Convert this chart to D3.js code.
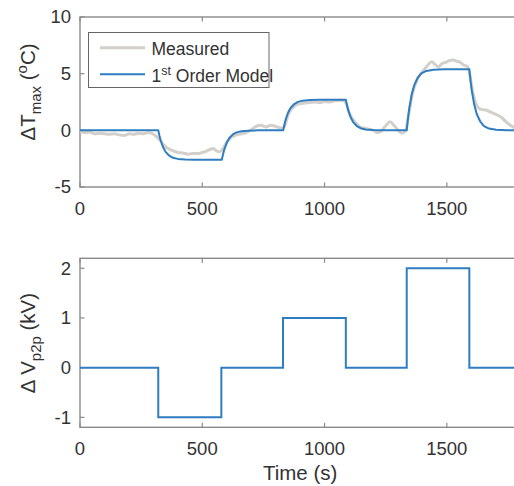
<!DOCTYPE html>
<html><head><meta charset="utf-8">
<script src="https://cdn.jsdelivr.net/npm/d3@7"></script>
<style>
html,body{margin:0;padding:0;background:#fff;}
svg{display:block;font-family:"Liberation Sans",Arial,Helvetica,sans-serif;}
</style></head>
<body>
<svg id="chart" width="514" height="486"></svg>
<script>
// ---------- data ----------
const xTicks = [0, 500, 1000, 1500, 2000];
const topYTicks = [-5, 0, 5, 10];
const botYTicks = [-1, 0, 1, 2];

// Measured temperature rise (°C) vs time (s)
const measT = [0,20,40,60,80,100,120,140,160,184,200,220,240,260,280,300,315,330,345,360,380,400,420,442,460,483,500,510,525,544,557,571,585,600,620,640,660,680,700,720,740,760,780,800,820,835,850,865,880,900,920,940,960,980,1000,1020,1040,1060,1080,1090,1100,1115,1130,1145,1160,1180,1200,1215,1230,1250,1268,1285,1300,1316,1330,1345,1360,1375,1390,1405,1420,1438,1452,1466,1480,1495,1510,1525,1540,1555,1570,1585,1595,1605,1615,1625,1640,1660,1680,1700,1720,1740,1760,1780,1800];
const measV = [-0.1,-0.2,-0.15,-0.3,-0.25,-0.3,-0.35,-0.3,-0.4,-0.45,-0.3,-0.35,-0.25,-0.3,-0.2,-0.35,-0.6,-0.95,-1.35,-1.6,-1.8,-1.95,-2.0,-2.1,-2.05,-2.05,-1.95,-1.9,-1.75,-1.6,-1.8,-1.9,-1.6,-1.05,-0.6,-0.4,-0.3,-0.2,0.05,0.35,0.45,0.3,0.45,0.35,0.2,0.3,1.3,1.9,2.2,2.35,2.4,2.45,2.5,2.45,2.55,2.5,2.6,2.65,2.6,2.3,1.6,1.0,0.6,0.3,0.2,0.1,0.0,-0.2,-0.1,0.4,0.75,0.4,0.05,-0.25,-0.1,1.5,3.3,4.3,4.9,5.3,5.7,6.05,5.8,5.6,5.9,6.0,6.15,6.2,6.1,6.0,5.75,5.6,4.8,3.5,2.6,2.1,1.85,1.8,1.6,1.4,1.2,0.8,0.45,0.2,0.1];

// First-order model (°C) vs time (s)
const modelT = [0,320,325,330,340,350,365,380,400,430,470,580,585,590,600,610,625,640,660,690,730,831,836,841,851,861,876,891,911,941,981,1087,1092,1097,1107,1117,1132,1147,1167,1197,1237,1336,1341,1346,1356,1366,1381,1396,1416,1446,1486,1592,1597,1602,1612,1622,1637,1652,1672,1702,1742,1800];
const modelV = [0,0,-0.5,-0.9,-1.5,-1.9,-2.24,-2.42,-2.52,-2.57,-2.6,-2.6,-2.1,-1.7,-1.1,-0.7,-0.36,-0.18,-0.08,-0.03,0,0,0.51,0.95,1.57,1.97,2.32,2.51,2.62,2.67,2.7,2.7,2.19,1.76,1.13,0.73,0.38,0.19,0.08,0.03,0,0,1.03,1.89,3.13,3.94,4.64,5.02,5.24,5.35,5.4,5.4,4.37,3.51,2.27,1.46,0.76,0.38,0.16,0.05,0,0];

// Voltage step input (kV) vs time (s)
const voltT = [0,320,578,830,1087,1336,1592,1800];
const voltV = [0,-1,0,1,0,2,0,0];

// ---------- drawing ----------
const svg = d3.select("#chart");
const L = 80, R = 520.2;
const top1 = 17, bot1 = 187;
const top2 = 258.3, bot2 = 427.3;
const axisCol = "#8a8a8a", textCol = "#333";
const blue = "#2e7dc0", grey = "#d3cfca";
const tickFs = 18.5, labelFs = 20.5, legFs = 17.5;

const x = d3.scaleLinear().domain([0, 1800]).range([L, R]);
const y1 = d3.scaleLinear().domain([-5, 10]).range([bot1, top1]);
const y2 = d3.scaleLinear().domain([-1.2, 2.2]).range([bot2, top2]);

function panel(y, top, bot, yTicks, id) {
  const g = svg.append("g");
  // clip
  svg.append("clipPath").attr("id", id).append("rect")
    .attr("x", L).attr("y", top).attr("width", R - L).attr("height", bot - top);
  // ticks (inside), x on bottom and top
  const tl = 4.5;
  xTicks.forEach(t => {
    const px = x(t);
    g.append("line").attr("x1", px).attr("x2", px).attr("y1", bot).attr("y2", bot - tl)
      .attr("stroke", axisCol).attr("stroke-width", 1.2);
    g.append("line").attr("x1", px).attr("x2", px).attr("y1", top).attr("y2", top + tl)
      .attr("stroke", axisCol).attr("stroke-width", 1.2);
    if (t <= 1800) g.append("text").attr("x", px).attr("y", bot + 27.5)
      .attr("text-anchor", "middle").attr("font-size", tickFs).attr("fill", textCol).text(t);
  });
  yTicks.forEach(v => {
    const py = y(v);
    g.append("line").attr("x1", L).attr("x2", L + tl).attr("y1", py).attr("y2", py)
      .attr("stroke", axisCol).attr("stroke-width", 1.2);
    g.append("line").attr("x1", R).attr("x2", R - tl).attr("y1", py).attr("y2", py)
      .attr("stroke", axisCol).attr("stroke-width", 1.2);
    g.append("text").attr("x", 71).attr("y", py).attr("dy", "0.35em")
      .attr("text-anchor", "end").attr("font-size", tickFs).attr("fill", textCol).text(v);
  });
  g.append("rect").attr("x", L).attr("y", top).attr("width", R - L).attr("height", bot - top)
    .attr("fill", "none").attr("stroke", axisCol).attr("stroke-width", 1.4);
  return g;
}

panel(y1, top1, bot1, topYTicks, "clip1");
panel(y2, top2, bot2, botYTicks, "clip2");

// top panel lines
const measData = measT.map((t, i) => [t, measV[i]]);
const modelData = modelT.map((t, i) => [t, modelV[i]]);
svg.append("path").attr("clip-path", "url(#clip1)")
  .attr("d", d3.line().x(d => x(d[0])).y(d => y1(d[1])).curve(d3.curveMonotoneX)(measData))
  .attr("fill", "none").attr("stroke", grey).attr("stroke-width", 3).attr("stroke-linejoin", "round");
svg.append("path").attr("clip-path", "url(#clip1)")
  .attr("d", d3.line().x(d => x(d[0])).y(d => y1(d[1])).curve(d3.curveLinear)(modelData))
  .attr("fill", "none").attr("stroke", blue).attr("stroke-width", 2).attr("stroke-linejoin", "round");

// bottom panel step
const voltData = voltT.map((t, i) => [t, voltV[i]]);
svg.append("path").attr("clip-path", "url(#clip2)")
  .attr("d", d3.line().x(d => x(d[0])).y(d => y2(d[1])).curve(d3.curveStepAfter)(voltData))
  .attr("fill", "none").attr("stroke", blue).attr("stroke-width", 2);

// legend
const lg = svg.append("g");
lg.append("rect").attr("x", 88.5).attr("y", 32.5).attr("width", 180.5).attr("height", 55)
  .attr("fill", "#fff").attr("stroke", "#666").attr("stroke-width", 1);
lg.append("line").attr("x1", 100).attr("x2", 145).attr("y1", 47.7).attr("y2", 47.7)
  .attr("stroke", grey).attr("stroke-width", 3);
lg.append("line").attr("x1", 100).attr("x2", 145).attr("y1", 74.3).attr("y2", 74.3)
  .attr("stroke", blue).attr("stroke-width", 2);
lg.append("text").attr("x", 151.5).attr("y", 54.5).attr("font-size", legFs).attr("fill", textCol).text("Measured");
const lt = lg.append("text").attr("x", 151.5).attr("y", 81.5).attr("font-size", legFs).attr("fill", textCol);
lt.append("tspan").text("1");
lt.append("tspan").attr("dy", -7).attr("font-size", 12.5).text("st");
lt.append("tspan").attr("dy", 7).text(" Order Model");

// axis labels
const yl1 = svg.append("text").attr("transform", "translate(35,92) rotate(-90)")
  .attr("text-anchor", "middle").attr("font-size", labelFs).attr("fill", textCol);
yl1.append("tspan").text("\u0394T");
yl1.append("tspan").attr("dy", 6).attr("font-size", 15).text("max");
yl1.append("tspan").attr("dy", -6).text(" (");
yl1.append("tspan").attr("dy", -8).attr("font-size", 15).text("o");
yl1.append("tspan").attr("dy", 8).text("C)");

const yl2 = svg.append("text").attr("transform", "translate(35,343) rotate(-90)")
  .attr("text-anchor", "middle").attr("font-size", labelFs).attr("fill", textCol);
yl2.append("tspan").text("\u0394 V");
yl2.append("tspan").attr("dy", 6).attr("font-size", 15).text("p2p");
yl2.append("tspan").attr("dy", -6).text(" (kV)");

svg.append("text").attr("x", (L + R) / 2).attr("y", 480).attr("text-anchor", "middle")
  .attr("font-size", labelFs).attr("fill", textCol).text("Time (s)");
</script>
</body></html>
